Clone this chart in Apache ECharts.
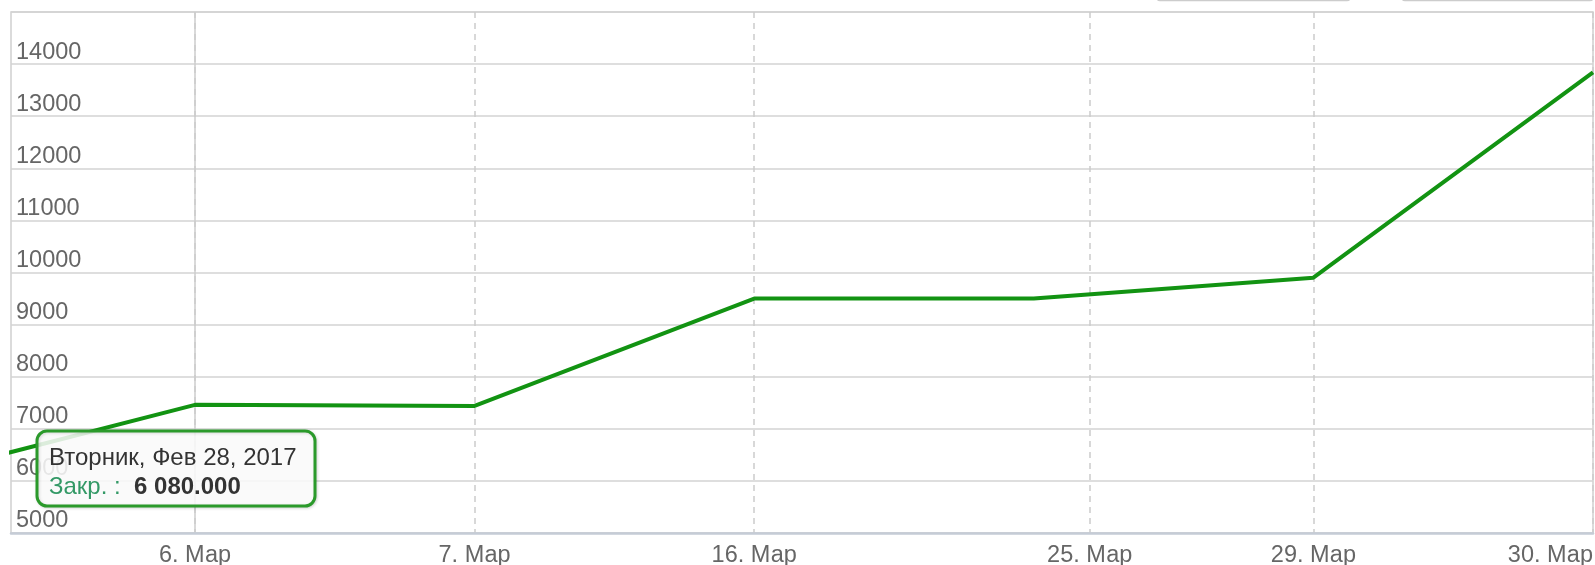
<!DOCTYPE html>
<html><head><meta charset="utf-8">
<script src="https://cdn.jsdelivr.net/npm/echarts@6/dist/echarts.min.js"></script>
<style>html,body{margin:0;padding:0;background:#fff}#c{width:1595px;height:565px}</style>
</head><body><div id="c"></div>
<script>
// ---- data ----
const pointDates = ['2017-02-28','2017-03-06','2017-03-07','2017-03-16','2017-03-24','2017-03-29','2017-03-30'];
const closeValues = [6080, 7460, 7440, 9500, 9500, 9900, 13840];
const tickDates = ['2017-03-06','2017-03-07','2017-03-16','2017-03-25','2017-03-29','2017-03-30'];
const tickLabels = ['6. Мар','7. Мар','16. Мар','25. Мар','29. Мар','30. Мар'];
const solidTickDates = ['2017-03-06'];
const yMin = 5000, yMax = 15000, yStep = 1000;
const visibleStart = 0.342;   // ordinal position of the left edge of the visible range
const tooltipIndex = 0;
const weekdayNames = ['Воскресенье','Понедельник','Вторник','Среда','Четверг','Пятница','Суббота'];
const monthNames = ['Янв','Фев','Мар','Апр','Май','Июн','Июл','Авг','Сен','Окт','Ноя','Дек'];
const seriesLabel = 'Закр.';

// ---- ordinal axis mapping (points equally spaced, dates in between interpolated) ----
const ms = d => Date.parse(d + 'T00:00:00Z');
const pointMs = pointDates.map(ms);
function ordinal(d) {
  const t = ms(d);
  for (let i = 0; i < pointMs.length - 1; i++) {
    if (t >= pointMs[i] && t <= pointMs[i + 1]) return i + (t - pointMs[i]) / (pointMs[i + 1] - pointMs[i]);
  }
  return t < pointMs[0] ? 0 : pointMs.length - 1;
}
const tickPos = tickDates.map(ordinal);
const solidPos = solidTickDates.map(ordinal);
const fmtTick = v => { const i = tickPos.findIndex(p => Math.abs(p - v) < 1e-6); return i >= 0 ? tickLabels[i] : ''; };
function fmtNum(v) { const [a, b] = v.toFixed(3).split('.'); return a.replace(/\B(?=(\d{3})+(?!\d))/g, ' ') + '.' + b; }
const td = new Date(pointMs[tooltipIndex]);
const tipTitle = weekdayNames[td.getUTCDay()] + ', ' + monthNames[td.getUTCMonth()] + ' ' + td.getUTCDate() + ', ' + td.getUTCFullYear();
const tipValue = fmtNum(closeValues[tooltipIndex]);

const FONT = '"Liberation Sans", Arial, sans-serif';
const chart = echarts.init(document.getElementById('c'), null, {renderer: 'canvas'});
chart.setOption({
  animation: false,
  backgroundColor: '#ffffff',
  textStyle: {fontFamily: FONT},
  grid: {left: 11, top: 12, right: 2, bottom: 32, show: true, borderColor: '#cfcfcf', borderWidth: 1.5, outerBoundsMode: 'none', containLabel: false},
  xAxis: [{
    type: 'value', min: visibleStart, max: pointDates.length - 1,
    axisLine: {show: true, onZero: false, lineStyle: {color: '#c5ccd6', width: 2.5}},
    axisTick: {show: false, customValues: tickPos},
    axisLabel: {customValues: tickPos, formatter: fmtTick, color: '#666666', fontSize: 23.5, fontFamily: FONT, margin: 11, alignMaxLabel: 'right'},
    splitLine: {show: true, lineStyle: {color: '#cccccc', width: 1.5, type: [6, 5]}}
  }, {
    type: 'value', min: visibleStart, max: pointDates.length - 1, position: 'bottom',
    axisLine: {show: false}, axisTick: {show: false, customValues: solidPos},
    axisLabel: {show: false, customValues: solidPos},
    splitLine: {show: true, lineStyle: {color: '#cccccc', width: 1.5}}
  }],
  yAxis: {
    type: 'value', min: yMin, max: yMax, interval: yStep,
    axisLine: {show: false}, axisTick: {show: false},
    axisLabel: {inside: true, color: '#666666', fontSize: 23.5, fontFamily: FONT, margin: 5, verticalAlign: 'bottom', showMaxLabel: false, formatter: v => String(v)},
    splitLine: {lineStyle: {color: '#d3d3d3', width: 1.5}}
  },
  series: [{
    type: 'line', xAxisIndex: 0,
    data: closeValues.map((v, i) => [i, v]),
    showSymbol: false, symbol: 'none',
    lineStyle: {color: '#129312', width: 4}, z: 5
  }],
  graphic: [
    {type: 'rect', z: 100, shape: {x: 1157, y: -30, width: 193, height: 30.5, r: 3}, style: {fill: '#fff', stroke: '#cccccc', lineWidth: 1.5}},
    {type: 'rect', z: 100, shape: {x: 1402, y: -30, width: 191, height: 30.5, r: 3}, style: {fill: '#fff', stroke: '#cccccc', lineWidth: 1.5}},
    {type: 'rect', z: 100, shape: {x: 37, y: 431, width: 278, height: 75, r: 10}, style: {fill: 'rgba(255,255,255,0.85)', stroke: '#2b9a2b', lineWidth: 3, shadowBlur: 3, shadowColor: 'rgba(0,0,0,0.15)', shadowOffsetX: 1, shadowOffsetY: 1}},
    {type: 'text', z: 101, x: 49, y: 458, style: {text: tipTitle, fill: '#333333', font: '24px ' + FONT, verticalAlign: 'middle'}},
    {type: 'text', z: 101, x: 49, y: 487, style: {
      text: '{a|' + seriesLabel + ' :}  {b|' + tipValue + '}', verticalAlign: 'middle', font: '24px ' + FONT,
      rich: {a: {fill: '#339966', fontSize: 24, fontFamily: FONT}, b: {fill: '#333333', fontSize: 24, fontFamily: FONT, fontWeight: 'bold'}}
    }}
  ]
});
</script></body></html>
